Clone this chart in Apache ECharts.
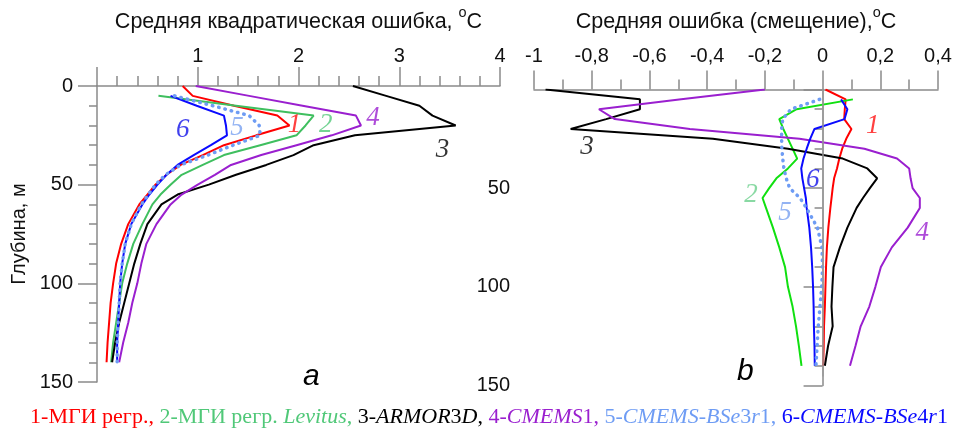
<!DOCTYPE html>
<html>
<head>
<meta charset="utf-8">
<script src="https://cdn.jsdelivr.net/npm/echarts@6/dist/echarts.min.js"></script>
<style>
html, body { margin: 0; padding: 0; background: #fff; }
#chart { width: 957px; height: 435px; }
</style>
</head>
<body>
<div id="chart"></div>
<script>
// Depth levels, m
const depths = [0, 5, 10, 15, 20, 25, 30, 35, 40, 45, 50, 55, 60, 70, 80, 90, 100, 110, 120, 130, 140];

// (a) RMSE, °C
const rmseMgi        = [0.85, 0.95, 1.36, 1.79, 1.91, 1.58, 1.26, 1.05, 0.83, 0.69, 0.58, 0.50, 0.42, 0.31, 0.24, 0.19, 0.16, 0.135, 0.12, 0.105, 0.095];
const rmseMgiLevitus = [null, 0.61, 1.38, 2.15, 2.07, 1.98, 1.62, 1.26, 1.05, 0.84, 0.73, 0.63, 0.55, 0.45, 0.36, 0.30, 0.25, 0.22, 0.19, 0.16, 0.14];
const rmseArmor      = [2.54, 2.87, 3.20, 3.33, 3.56, 2.56, 2.15, 1.95, 1.68, 1.38, 1.11, 0.80, 0.64, 0.50, 0.43, 0.37, 0.32, 0.27, 0.22, 0.18, 0.15];
const rmseCmems1     = [0.98, 1.51, 2.04, 2.57, 2.62, 2.33, 1.98, 1.63, 1.33, 1.17, 1.00, 0.84, 0.73, 0.59, 0.49, 0.44, 0.40, 0.35, 0.31, 0.26, 0.22];
const rmseBSe3r1     = [null, 0.77, 1.15, 1.51, 1.61, 1.62, 1.35, 1.10, 0.83, 0.68, 0.58, 0.51, 0.44, 0.34, 0.28, 0.25, 0.23, 0.22, 0.21, 0.20, 0.20];
const rmseBSe4r1     = [null, 0.73, 0.99, 1.26, 1.28, 1.29, 1.13, 0.96, 0.80, 0.69, 0.60, 0.52, 0.45, 0.34, 0.28, 0.25, 0.23, 0.22, 0.21, 0.20, 0.20];

// (b) mean error (bias), °C
const biasMgi        = [0.01, 0.08, 0.077, 0.075, 0.10, 0.082, 0.068, 0.058, 0.05, 0.04, 0.035, 0.031, 0.027, 0.02, 0.015, 0.012, 0.01, 0.008, 0.005, 0.004, 0.002];
const biasMgiLevitus = [null, 0.105, -0.09, -0.15, -0.136, -0.12, -0.104, -0.088, -0.12, -0.16, -0.185, -0.208, -0.196, -0.172, -0.15, -0.13, -0.12, -0.104, -0.092, -0.082, -0.073];
const biasArmor      = [-0.96, -0.633, -0.633, -0.75, -0.873, -0.38, -0.12, 0.07, 0.155, 0.189, 0.164, 0.14, 0.118, 0.086, 0.06, 0.038, 0.034, 0.031, 0.035, 0.019, 0.008];
const biasCmems1     = [-0.2, -0.49, -0.775, -0.72, -0.46, -0.08, 0.145, 0.258, 0.30, 0.305, 0.312, 0.337, 0.337, 0.295, 0.24, 0.202, 0.183, 0.162, 0.132, 0.114, 0.095];
const biasBSe3r1     = [null, -0.01, -0.11, -0.138, -0.142, -0.142, -0.141, -0.138, -0.134, -0.126, -0.114, -0.078, -0.056, -0.018, -0.002, 0.0, -0.003, -0.009, -0.015, -0.019, -0.023];
const biasBSe4r1     = [null, 0.064, 0.086, 0.076, -0.028, -0.043, -0.055, -0.066, -0.074, -0.07, -0.064, -0.058, -0.055, -0.046, -0.04, -0.036, -0.033, -0.031, -0.03, -0.028, -0.027];

// Curve numbers: [text, value, depth]
const tagsA = [['1', 1.96, 19.5], ['2', 2.27, 19.5], ['3', 3.43, 32.5], ['4', 2.74, 16], ['5', 1.39, 21], ['6', 0.85, 22.5]];
const tagsB = [['1', 0.174, 18.3], ['2', -0.248, 53.4], ['3', -0.816, 28.9], ['4', 0.345, 72.5], ['5', -0.13, 62.5], ['6', -0.034, 46]];

const SANS = '"Liberation Sans", Arial, sans-serif';
const SERIF = '"Liberation Serif", "Times New Roman", serif';
const AXIS_GREY = '#8a8a8a';

const colA = { 1: '#ff0000', 2: '#3fbf5f', 3: '#000000', 4: '#9a1fcf', 5: '#6e9cf4', 6: '#0a0aff' };
const colB = { 1: '#ff0000', 2: '#10e010', 3: '#000000', 4: '#9a1fcf', 5: '#6e9cf4', 6: '#0a0aff' };
const tagColA = { 1: '#ff1010', 2: '#50c878', 3: '#000000', 4: '#9a1fcf', 5: '#78a0f0', 6: '#1010e8' };
const tagColB = { 1: '#ff1010', 2: '#6ccf8c', 3: '#000000', 4: '#9a1fcf', 5: '#78a0f0', 6: '#1010e8' };

function pairs(vals) {
  const out = [];
  vals.forEach((v, i) => { if (v !== null) out.push([v, depths[i]]); });
  return out;
}

function lineSeries(vals, idx, color, dotted) {
  return {
    type: 'line',
    xAxisIndex: idx, yAxisIndex: idx,
    data: pairs(vals),
    showSymbol: false, symbol: 'none',
    smooth: false,
    silent: true,
    lineStyle: dotted
      ? { color: color, width: 3.5, type: [0.5, 6], cap: 'round' }
      : { color: color, width: 2 },
    z: dotted ? 3 : 2
  };
}

function tagSeries(tags, idx, colors) {
  return {
    type: 'scatter',
    xAxisIndex: idx, yAxisIndex: idx,
    symbolSize: 0,
    silent: true,
    data: tags.map(t => ({ name: t[0], value: [t[1], t[2]],
      label: { color: colors[t[0]] } })),
    label: {
      show: true, position: 'inside',
      formatter: p => p.name,
      fontFamily: SERIF, fontStyle: 'italic', fontSize: 27
    },
    z: 5
  };
}

function depthAxis(idx, showZero) {
  return {
    gridIndex: idx, type: 'value', inverse: true,
    min: 0, max: 150, interval: 50,
    axisLine: { show: true, lineStyle: { color: AXIS_GREY, width: 1.5 } },
    axisTick: { show: true, length: 19, lineStyle: { color: AXIS_GREY, width: 1.5 } },
    minorTick: { show: true, splitNumber: 5, length: 8, lineStyle: { color: AXIS_GREY, width: 1.5 } },
    splitLine: { show: false },
    axisLabel: {
      margin: 24, fontSize: 20, color: '#111', fontFamily: SANS,
      formatter: v => (v === 0 && !showZero) ? '' : String(v)
    },
    name: idx === 0 ? 'Глубина, м' : '',
    nameLocation: 'middle', nameRotate: 90, nameGap: 68,
    nameTextStyle: { fontSize: 20, color: '#111', fontFamily: SANS }
  };
}

function commaFmt(v) {
  const r = Math.round(v * 10) / 10;
  return r === 0 ? '0' : String(r).replace('.', ',');
}

const titleRich = {
  t: { fontSize: 21.5, color: '#111', fontFamily: SANS, lineHeight: 28, verticalAlign: 'bottom' },
  s: { fontSize: 14.5, color: '#111', fontFamily: SANS, lineHeight: 28, verticalAlign: 'top' }
};

const option = {
  animation: false,
  backgroundColor: '#ffffff',
  grid: [
    { left: 97, top: 83, width: 403, height: 299 },
    { left: 534, top: 86.5, width: 404, height: 299 }
  ],
  xAxis: [
    {
      gridIndex: 0, type: 'value', position: 'top',
      min: 0, max: 4, interval: 1,
      axisLine: { show: true, lineStyle: { color: AXIS_GREY, width: 1.5 } },
      axisTick: { show: true, length: 19, lineStyle: { color: AXIS_GREY, width: 1.5 } },
      minorTick: { show: true, splitNumber: 5, length: 10, lineStyle: { color: AXIS_GREY, width: 1.5 } },
      splitLine: { show: false },
      axisLabel: { margin: 20, fontSize: 20, color: '#111', fontFamily: SANS,
        formatter: v => v === 0 ? '' : String(v) },
      name: '{t|Средняя квадратическая ошибка, }{s|o}{t|C}',
      nameLocation: 'middle', nameGap: 53,
      nameTextStyle: { rich: titleRich }
    },
    {
      gridIndex: 1, type: 'value', position: 'top', offset: 3.5,
      min: -1, max: 0.4, interval: 0.2,
      axisLine: { show: true, lineStyle: { color: AXIS_GREY, width: 1.5 } },
      axisTick: { show: true, length: 19, lineStyle: { color: AXIS_GREY, width: 1.5 } },
      minorTick: { show: true, splitNumber: 2, length: 10, lineStyle: { color: AXIS_GREY, width: 1.5 } },
      splitLine: { show: false },
      axisLabel: { margin: 20, fontSize: 20, color: '#111', fontFamily: SANS, formatter: commaFmt },
      name: '{t|Средняя ошибка (смещение),}{s|o}{t|C}',
      nameLocation: 'middle', nameGap: 53,
      nameTextStyle: { rich: titleRich }
    }
  ],
  yAxis: [depthAxis(0, true), depthAxis(1, false)],
  series: [
    lineSeries(rmseMgi, 0, colA[1]),
    lineSeries(rmseMgiLevitus, 0, colA[2]),
    lineSeries(rmseArmor, 0, colA[3]),
    lineSeries(rmseCmems1, 0, colA[4]),
    lineSeries(rmseBSe4r1, 0, colA[6]),
    lineSeries(rmseBSe3r1, 0, colA[5], true),
    Object.assign(lineSeries(biasMgi, 1, colB[1]), {
      markLine: {
        silent: true, symbol: 'none', label: { show: false },
        lineStyle: { color: '#9a9a9a', width: 1.5, type: 'solid' },
        data: [[{ coord: [0, 0] }, { coord: [0, 145.5] }]]
      }
    }),
    lineSeries(biasMgiLevitus, 1, colB[2]),
    lineSeries(biasArmor, 1, colB[3]),
    lineSeries(biasCmems1, 1, colB[4]),
    lineSeries(biasBSe4r1, 1, colB[6]),
    lineSeries(biasBSe3r1, 1, colB[5], true),
    tagSeries(tagsA, 0, tagColA),
    tagSeries(tagsB, 1, tagColB)
  ],
  graphic: [
    { type: 'text', left: 303, top: 362,
      style: { text: 'a', font: 'italic 30px ' + SANS, fill: '#000' } },
    { type: 'text', left: 737, top: 357,
      style: { text: 'b', font: 'italic 30px ' + SANS, fill: '#000' } },
    {
      type: 'text', x: 489, y: 417,
      style: {
        text: '{r|1-МГИ регр., }{g|2-МГИ регр. }{gi|Levitus}{g|, }{k|3-}{ki|ARMOR}{k|3}{ki|D}{k|, }' +
              '{p|4-}{pi|CMEMS}{p|1, }{l|5-}{li|CMEMS-BSe}{l|3}{li|r}{l|1, }{b|6-}{bi|CMEMS-BSe}{b|4}{bi|r}{b|1}',
        align: 'center', verticalAlign: 'middle',
        font: '22px ' + SERIF,
        rich: {
          r:  { fill: '#ff0000', fontFamily: SERIF, fontSize: 22 },
          g:  { fill: '#50c878', fontFamily: SERIF, fontSize: 22 },
          gi: { fill: '#50c878', fontFamily: SERIF, fontSize: 22, fontStyle: 'italic' },
          k:  { fill: '#000000', fontFamily: SERIF, fontSize: 22 },
          ki: { fill: '#000000', fontFamily: SERIF, fontSize: 22, fontStyle: 'italic' },
          p:  { fill: '#9a1fcf', fontFamily: SERIF, fontSize: 22 },
          pi: { fill: '#9a1fcf', fontFamily: SERIF, fontSize: 22, fontStyle: 'italic' },
          l:  { fill: '#6e9cf4', fontFamily: SERIF, fontSize: 22 },
          li: { fill: '#6e9cf4', fontFamily: SERIF, fontSize: 22, fontStyle: 'italic' },
          b:  { fill: '#0a0aff', fontFamily: SERIF, fontSize: 22 },
          bi: { fill: '#0a0aff', fontFamily: SERIF, fontSize: 22, fontStyle: 'italic' }
        }
      }
    }
  ]
};

const chart = echarts.init(document.getElementById('chart'), null, { renderer: 'canvas' });
chart.setOption(option);
</script>
</body>
</html>
